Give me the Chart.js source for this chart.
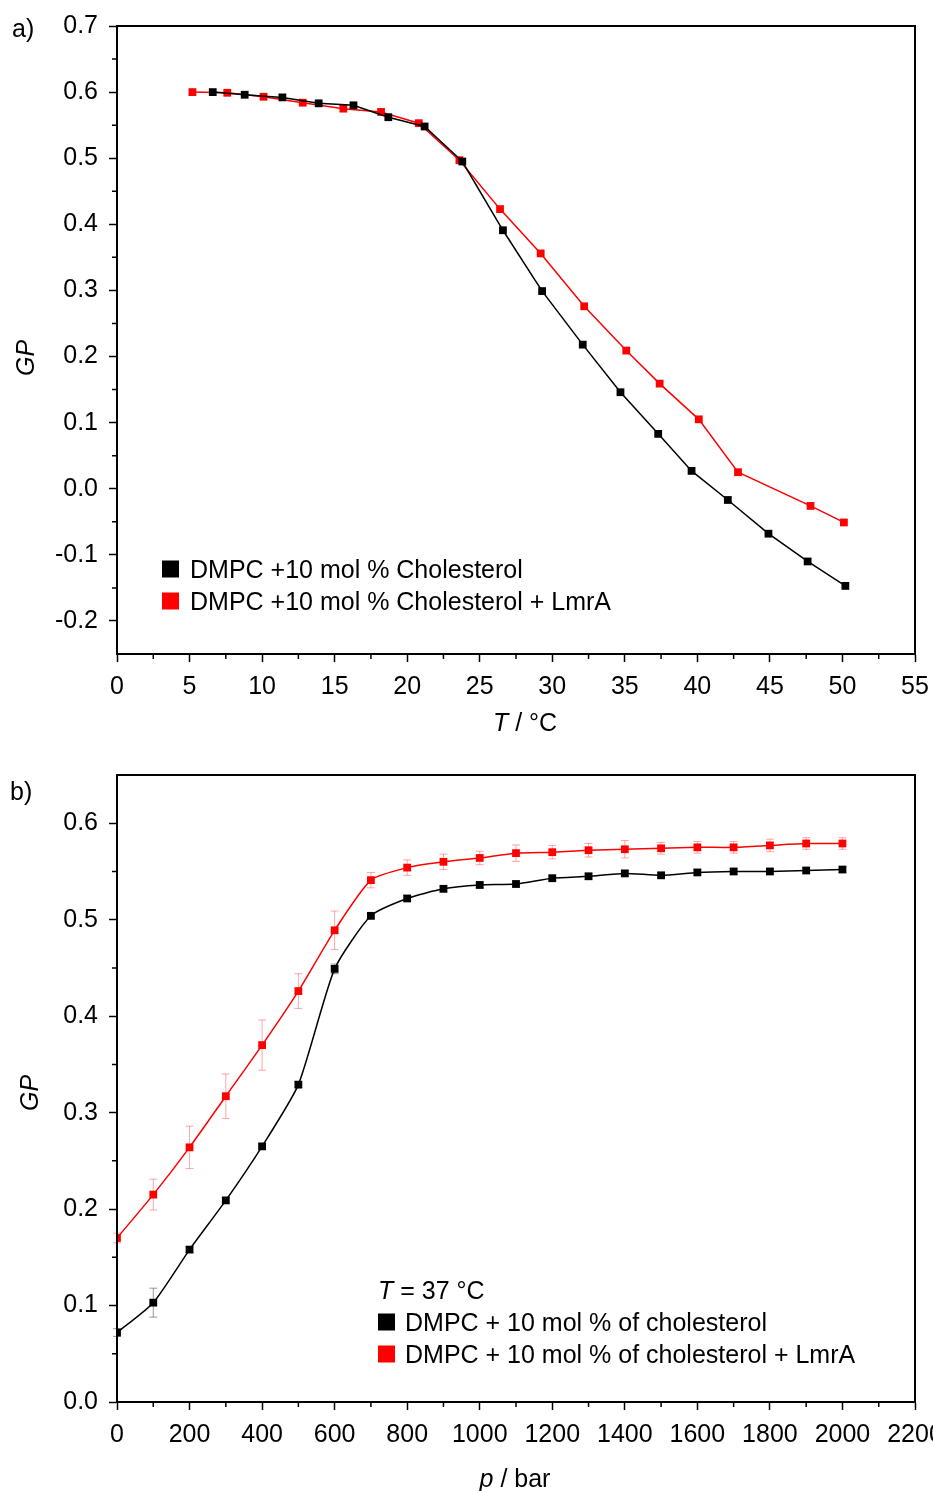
<!DOCTYPE html>
<html>
<head>
<meta charset="utf-8">
<script src="https://cdn.jsdelivr.net/npm/chart.js@4.4.0/dist/chart.umd.min.js"></script>
<style>
    html, body { margin: 0; padding: 0; background: #fff; overflow: hidden; }
    body { width: 933px; height: 1491px; position: relative; font-family: "Liberation Sans", Arial, sans-serif; color: #000; }
    .box { position: absolute; left: 0; }
    #boxA { top: 0; width: 960px; height: 745px; }
    #boxB { top: 745px; width: 960px; height: 746px; }
    .lbl { position: absolute; font-size: 25px; line-height: 1; white-space: nowrap; }
    .c { transform: translate(-50%, -50%); }
    .rot { transform: translate(-50%, -50%) rotate(-90deg); }
    .row { display: flex; align-items: center; transform: translateY(-50%); }
    .sw { display: inline-block; width: 17px; height: 17px; }
</style>
</head>
<body>
<div class="box" id="boxA"><canvas id="chartA"></canvas></div>
<div class="box" id="boxB"><canvas id="chartB"></canvas></div>

<div class="lbl" style="left:12px; top:16px;">a)</div>
<div class="lbl rot" style="left:25px; top:358px;"><i>GP</i></div>
<div class="lbl c" style="left:525px; top:722px;"><i>T</i> / °C</div>
<div class="lbl row" style="left:162px; top:569px;"><span class="sw" style="background:#000; margin-right:11px;"></span>DMPC +10 mol % Cholesterol</div>
<div class="lbl row" style="left:162px; top:601px;"><span class="sw" style="background:#ff0000; margin-right:11px;"></span>DMPC +10 mol % Cholesterol + LmrA</div>

<div class="lbl" style="left:10px; top:779px;">b)</div>
<div class="lbl rot" style="left:29px; top:1093px;"><i>GP</i></div>
<div class="lbl c" style="left:515px; top:1478px;"><i>p</i> / bar</div>
<div class="lbl row" style="left:378px; top:1290px;"><i>T</i>&nbsp;= 37 °C</div>
<div class="lbl row" style="left:378px; top:1322px;"><span class="sw" style="background:#000; margin-right:10px;"></span>DMPC + 10 mol % of cholesterol</div>
<div class="lbl row" style="left:378px; top:1354px;"><span class="sw" style="background:#ff0000; margin-right:10px;"></span>DMPC + 10 mol % of cholesterol + LmrA</div>

<script>
    // a) temperature scan
    const tempBlack = [6.6, 8.8, 11.4, 13.9, 16.3, 18.7, 21.2, 23.8, 26.6, 29.3, 32.1, 34.7, 37.3, 39.6, 42.1, 44.9, 47.6, 50.2];
    const gpTempBlack = [0.600, 0.596, 0.592, 0.583, 0.580, 0.562, 0.548, 0.495, 0.391, 0.299, 0.218, 0.146, 0.083, 0.027, -0.017, -0.068, -0.110, -0.147];
    const tempRed = [5.2, 7.6, 10.1, 12.8, 15.6, 18.2, 20.8, 23.6, 26.4, 29.2, 32.2, 35.1, 37.4, 40.1, 42.8, 47.8, 50.1];
    const gpTempRed = [0.600, 0.599, 0.593, 0.584, 0.575, 0.570, 0.553, 0.497, 0.423, 0.356, 0.276, 0.209, 0.159, 0.105, 0.025, -0.026, -0.051];
    const tempTicks = [0, 5, 10, 15, 20, 25, 30, 35, 40, 45, 50, 55];
    const gpTicksA = [-0.2, -0.1, 0, 0.1, 0.2, 0.3, 0.4, 0.5, 0.6, 0.7];

    // b) pressure scan, T = 37 °C
    const pressure = [0, 100, 200, 300, 400, 500, 600, 700, 800, 900, 1000, 1100, 1200, 1300, 1400, 1500, 1600, 1700, 1800, 1900, 2000];
    const gpPresBlack = [0.072, 0.103, 0.158, 0.209, 0.265, 0.329, 0.449, 0.504, 0.522, 0.532, 0.536, 0.537, 0.543, 0.545, 0.548, 0.546, 0.549, 0.550, 0.550, 0.551, 0.552];
    const errPresBlack = [0.004, 0.015, 0.003, 0.003, 0.003, 0.003, 0.005, 0.003, 0.003, 0.003, 0.003, 0.003, 0.003, 0.003, 0.003, 0.003, 0.003, 0.003, 0.003, 0.003, 0.003];
    const gpPresRed = [0.170, 0.215, 0.264, 0.317, 0.370, 0.426, 0.489, 0.541, 0.554, 0.560, 0.564, 0.569, 0.570, 0.572, 0.573, 0.574, 0.575, 0.575, 0.577, 0.579, 0.579];
    const errPresRed = [0.005, 0.016, 0.022, 0.023, 0.026, 0.018, 0.020, 0.008, 0.008, 0.008, 0.007, 0.0085, 0.007, 0.007, 0.009, 0.006, 0.006, 0.006, 0.0065, 0.006, 0.006];
    const pressureTicks = [0, 200, 400, 600, 800, 1000, 1200, 1400, 1600, 1800, 2000, 2200];
    const gpTicksB = [0, 0.1, 0.2, 0.3, 0.4, 0.5, 0.6];

    const toPoints = (xs, ys) => xs.map((x, i) => ({ x: x, y: ys[i] }));

    Chart.defaults.font.family = '"Liberation Sans", Arial, sans-serif';
    Chart.defaults.font.size = 25;
    Chart.defaults.color = '#000';

    // box round the plot, minor ticks, error bars
    const framePlugin = {
        id: 'frame',
        beforeDatasetsDraw(chart) {
            const ctx = chart.ctx;
            const ys = chart.scales.y;
            ctx.save();
            ctx.lineWidth = 1;
            chart.data.datasets.forEach((ds, di) => {
                if (!ds.errors) return;
                ctx.strokeStyle = ds.errorColor;
                chart.getDatasetMeta(di).data.forEach((el, i) => {
                    const v = ds.data[i].y, e = ds.errors[i];
                    const y1 = ys.getPixelForValue(v + e), y2 = ys.getPixelForValue(v - e);
                    ctx.beginPath();
                    ctx.moveTo(el.x, y1); ctx.lineTo(el.x, y2);
                    ctx.moveTo(el.x - 4, y1); ctx.lineTo(el.x + 4, y1);
                    ctx.moveTo(el.x - 4, y2); ctx.lineTo(el.x + 4, y2);
                    ctx.stroke();
                });
            });
            ctx.restore();
        },
        afterDraw(chart) {
            const a = chart.chartArea, ctx = chart.ctx;
            ctx.save();
            ctx.strokeStyle = '#000';
            ctx.lineWidth = 2;
            ctx.strokeRect(a.left, a.top, a.right - a.left, a.bottom - a.top);
            ctx.lineWidth = 1.5;
            const xs = chart.scales.x, ys = chart.scales.y;
            const xt = xs.ticks.map(t => t.value), yt = ys.ticks.map(t => t.value);
            ctx.beginPath();
            for (let i = 0; i < xt.length - 1; i++) {
                const px = xs.getPixelForValue((xt[i] + xt[i + 1]) / 2);
                ctx.moveTo(px, a.bottom); ctx.lineTo(px, a.bottom + 5);
            }
            for (let i = 0; i < yt.length - 1; i++) {
                const py = ys.getPixelForValue((yt[i] + yt[i + 1]) / 2);
                ctx.moveTo(a.left, py); ctx.lineTo(a.left - 5, py);
            }
            ctx.stroke();
            ctx.restore();
        }
    };

    function axis(min, max, tickValues, fmt, fitFn, pad) {
        return {
            type: 'linear',
            min: min,
            max: max,
            afterBuildTicks: s => { s.ticks = tickValues.map(v => ({ value: v })); },
            afterFit: fitFn,
            border: { color: '#000', width: 2 },
            grid: { drawOnChartArea: false, drawTicks: true, tickLength: 8, tickColor: '#000', tickWidth: 1.5 },
            ticks: { padding: pad, autoSkip: false, maxRotation: 0, callback: fmt }
        };
    }

    function series(pts, color, tension, errors, errorColor) {
        return {
            data: pts,
            borderColor: color,
            backgroundColor: color,
            borderWidth: 1.5,
            pointStyle: 'rect',
            pointRadius: 5.5,
            pointBorderWidth: 0,
            tension: tension,
            clip: 1,
            errors: errors,
            errorColor: errorColor
        };
    }

    new Chart(document.getElementById('chartA'), {
        type: 'line',
        data: {
            datasets: [
                series(toPoints(tempBlack, gpTempBlack), '#000000', 0),
                series(toPoints(tempRed, gpTempRed), '#ff0000', 0)
            ]
        },
        options: {
            responsive: true,
            maintainAspectRatio: false,
            animation: false,
            layout: { padding: { top: 26, right: 45, left: 0, bottom: 0 } },
            plugins: { legend: { display: false }, tooltip: { enabled: false } },
            scales: {
                x: axis(0, 55, tempTicks, v => String(v), s => { s.height = 91; }, 10),
                y: axis(-0.25, 0.7, gpTicksA, v => v.toFixed(1), s => { s.width = 117; }, 11)
            }
        },
        plugins: [framePlugin]
    });

    new Chart(document.getElementById('chartB'), {
        type: 'line',
        data: {
            datasets: [
                series(toPoints(pressure, gpPresBlack), '#000000', 0.2, errPresBlack, 'rgba(0,0,0,0.4)'),
                series(toPoints(pressure, gpPresRed), '#ff0000', 0.2, errPresRed, 'rgba(255,0,0,0.35)')
            ]
        },
        options: {
            responsive: true,
            maintainAspectRatio: false,
            animation: false,
            layout: { padding: { top: 30, right: 45, left: 0, bottom: 0 } },
            plugins: { legend: { display: false }, tooltip: { enabled: false } },
            scales: {
                x: axis(0, 2200, pressureTicks, v => String(v), s => { s.height = 89; }, 10),
                y: axis(0, 0.65, gpTicksB, v => v.toFixed(1), s => { s.width = 117; }, 11)
            }
        },
        plugins: [framePlugin]
    });
</script>
</body>
</html>
